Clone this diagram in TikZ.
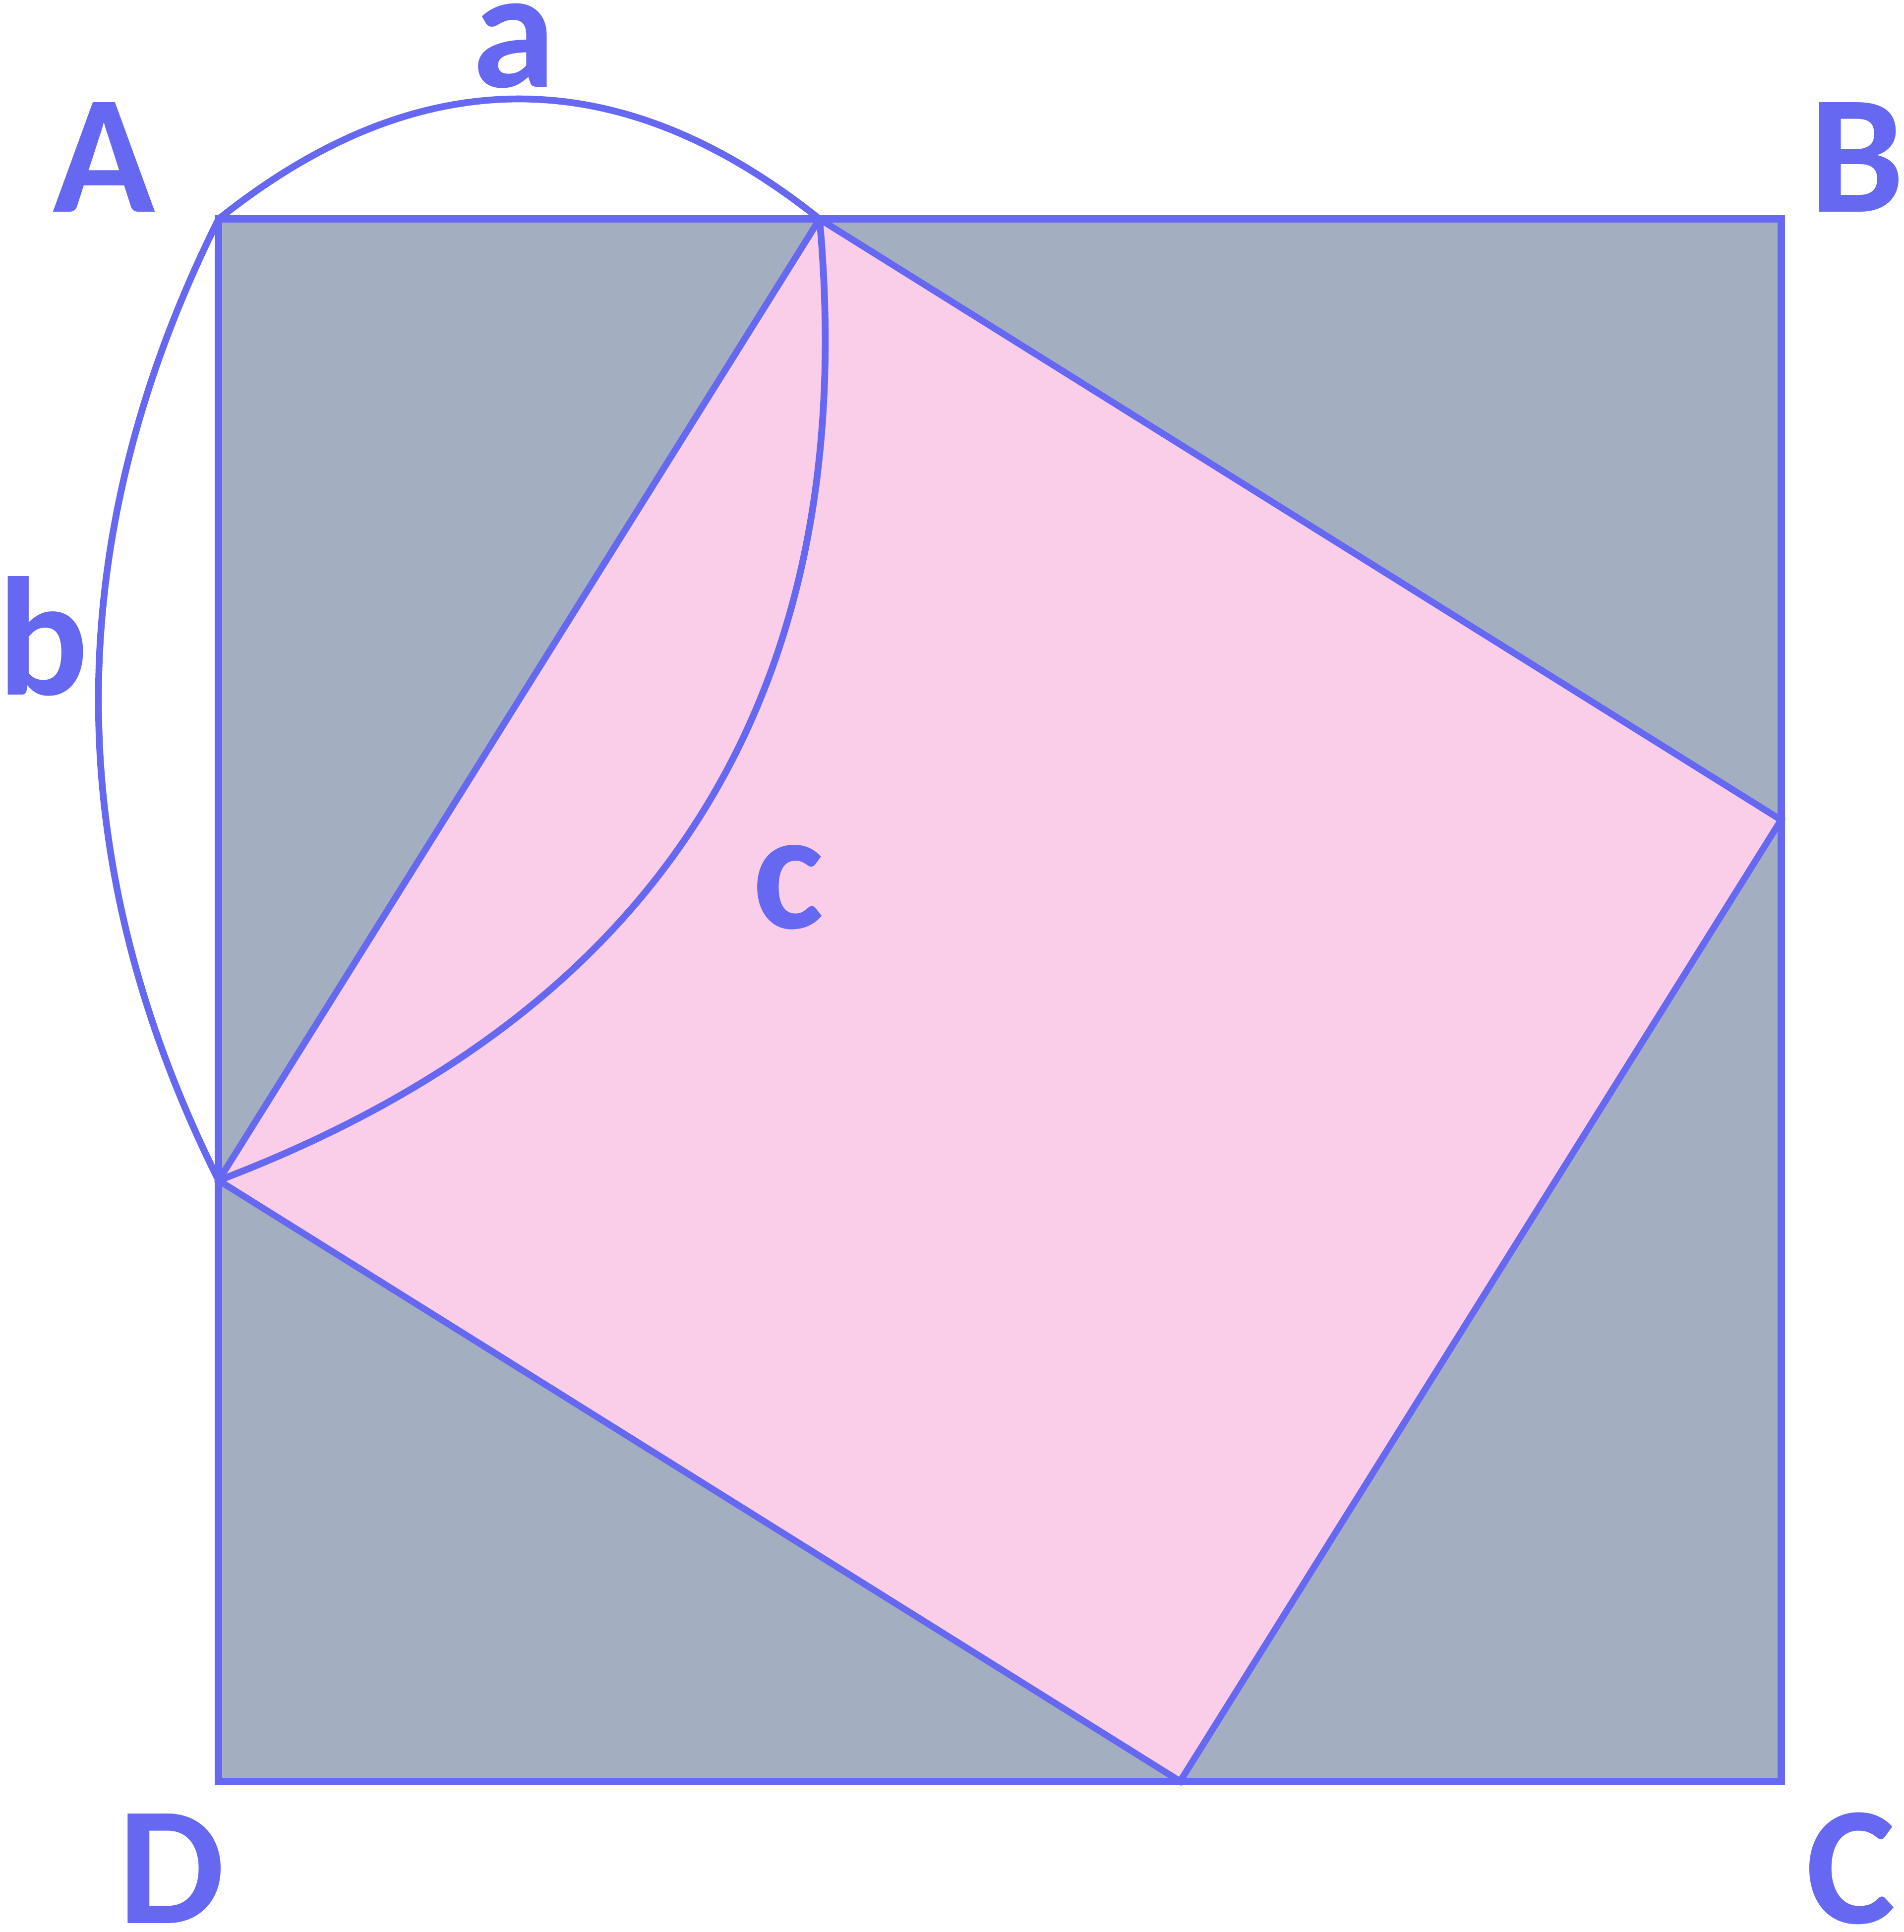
\documentclass[tikz,border=0pt]{standalone}
\usepackage{fontspec}
\setmainfont{Carlito}
\definecolor{edgeblue}{RGB}{102,104,242}
\definecolor{outergray}{RGB}{163,175,193}
\definecolor{innerpink}{RGB}{250,205,232}
\tikzset{
    side/.style={
           draw=edgeblue,
           line width=1.75pt,
           },
    tilt/.style={
           draw=edgeblue,
           line width=1.55pt,
           },
    bump/.style={
           draw=edgeblue,
           line width=1.6pt,
           },
    lbl/.style={
           text=edgeblue,
           font=\fontsize{40}{48}\selectfont\bfseries,
           inner sep=0pt,
           anchor=base,
           },
}

\begin{document}
\begin{tikzpicture}
  \useasboundingbox (-1.819,-1.254) rectangle (14.022,14.823);
  \coordinate (cA) at (0,13);
  \coordinate (cB) at (13,13);
  \coordinate (cC) at (13,0);
  \coordinate (cD) at (0,0);
  \coordinate (pTop)    at (5,13);
  \coordinate (pRight)  at (13,8);
  \coordinate (pBottom) at (8,0);
  \coordinate (pLeft)   at (0,5);

  \fill[outergray] (cA) -- (cB) -- (cC) -- (cD) -- cycle;
  \fill[innerpink] (pTop) -- (pRight) -- (pBottom) -- (pLeft) -- cycle;
  \draw[side] (cA) -- (cB) -- (cC) -- (cD) -- cycle;
  \draw[tilt] (pTop) -- (pRight) -- (pBottom) -- (pLeft) -- cycle;

  % bumps over a, b and c
  \draw[bump] (cA) .. controls (1.667,14.333) and (3.333,14.333) .. (pTop);
  \draw[bump] (cA) .. controls (-1.333,10.333) and (-1.333,7.667) .. (pLeft);
  \draw[bump] (pTop) .. controls (5.357,9.067) and (3.691,6.4) .. (pLeft);

  \node[lbl] (A) at (-0.952,13.06) {A};
  \node[lbl] (B) at (13.63,13.06)  {B};
  \node[lbl] (C) at (13.58,-1.18)  {C};
  \node[lbl] (D) at (-0.39,-1.18)  {D};
  \node[lbl] (a) at (2.457,14.10)  {a};
  \node[lbl] (b) at (-1.46,9.04)   {b};
  \node[lbl] (c) at (4.741,7.10)   {c};

\end{tikzpicture}
\end{document}
